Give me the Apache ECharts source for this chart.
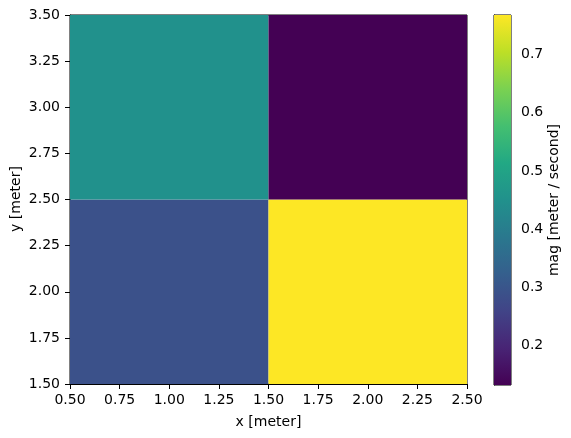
<!DOCTYPE html>
<html>
<head>
<meta charset="utf-8">
<script src="https://cdn.jsdelivr.net/npm/echarts@6/dist/echarts.min.js"></script>
<style>
    html, body { margin: 0; padding: 0; background: #fff; }
    #chart { width: 571px; height: 438px; }
</style>
</head>
<body>
<div id="chart"></div>
<script>
// cell centres and magnitudes (rows follow yCenters)
var xCenters = [1.0, 2.0];
var yCenters = [2.0, 3.0];
var magValues = [
    [0.29, 0.768],
    [0.45, 0.132]
];
var cellSize = 1.0;
var magRange = [0.132, 0.768];
var cbTicks = [0.2, 0.3, 0.4, 0.5, 0.6, 0.7];
var viridis = ['#440154', '#482475', '#414487', '#355f8d', '#2a788e', '#21918c',
    '#22a884', '#44bf70', '#7ad151', '#bddf26', '#fde725'];

var cells = [];
for (var j = 0; j < yCenters.length; j++) {
    for (var i = 0; i < xCenters.length; i++) {
        cells.push([xCenters[i], yCenters[j], magValues[j][i]]);
    }
}

var font = 'DejaVu Sans';
var labelStyle = { color: '#000', fontSize: 14, fontFamily: font };

function fmt2(v) { return v.toFixed(2); }

var myChart = echarts.init(document.getElementById('chart'));
var option = {
    animation: false,
    grid: [
        { left: 70, top: 15, width: 397, height: 369, outerBoundsMode: 'none', show: true, borderColor: '#000', borderWidth: 1, backgroundColor: 'transparent' },
        { left: 494, top: 15, width: 17, height: 370, outerBoundsMode: 'none', show: true, borderColor: '#000', borderWidth: 1, backgroundColor: 'transparent' }
    ],
    // y axis title, placed like matplotlib's ylabel
    graphic: [{
        type: 'text',
        x: 16, y: 199,
        rotation: Math.PI / 2,
        style: { text: 'y [meter]', fill: '#000', fontSize: 14, fontFamily: font, align: 'center', verticalAlign: 'middle' }
    }],
    visualMap: {
        show: false,
        seriesIndex: 0,
        dimension: 2,
        min: magRange[0],
        max: magRange[1],
        inRange: { color: viridis }
    },
    xAxis: [{
        gridIndex: 0, type: 'value', min: 0.5, max: 2.5, interval: 0.25,
        name: 'x [meter]', nameLocation: 'middle', nameGap: 31,
        nameTextStyle: labelStyle,
        axisLine: { show: true, onZero: false, lineStyle: { color: '#000' } },
        axisTick: { show: true, length: 5, lineStyle: { color: '#000' } },
        axisLabel: Object.assign({ formatter: fmt2, margin: 9, showMaxLabel: true, showMinLabel: true }, labelStyle),
        splitLine: { show: false }
    }, {
        gridIndex: 1, type: 'value', min: 0, max: 1, show: false
    }],
    yAxis: [{
        gridIndex: 0, type: 'value', min: 1.5, max: 3.5, interval: 0.25,
        axisLine: { show: true, onZero: false, lineStyle: { color: '#000' } },
        axisTick: { show: true, length: 5, lineStyle: { color: '#000' } },
        axisLabel: Object.assign({ formatter: fmt2, margin: 10, showMaxLabel: true, showMinLabel: true }, labelStyle),
        splitLine: { show: false }
    }, {
        gridIndex: 1, type: 'value', min: magRange[0], max: magRange[1], position: 'right',
        name: 'mag [meter / second]', nameLocation: 'middle', nameGap: 36, nameRotate: 90, nameMoveOverlap: false,
        nameTextStyle: labelStyle,
        axisLine: { show: true, lineStyle: { color: '#000' } },
        axisTick: { show: true, length: 5, customValues: cbTicks, lineStyle: { color: '#000' } },
        axisLabel: Object.assign({ customValues: cbTicks, margin: 10, formatter: function (v) { return v.toFixed(1); } }, labelStyle),
        splitLine: { show: false }
    }],
    series: [{
        type: 'custom',
        xAxisIndex: 0, yAxisIndex: 0,
        data: cells,
        encode: { x: 0, y: 1 },
        renderItem: function (params, api) {
            var x = api.value(0), y = api.value(1), h = cellSize / 2;
            var p0 = api.coord([x - h, y + h]);
            var p1 = api.coord([x + h, y - h]);
            return {
                type: 'rect',
                shape: { x: p0[0], y: p0[1], width: p1[0] - p0[0], height: p1[1] - p0[1] },
                style: { fill: api.visual('color') }
            };
        }
    }, {
        type: 'custom',
        xAxisIndex: 1, yAxisIndex: 1,
        data: [[0, magRange[0], magRange[1]]],
        renderItem: function (params, api) {
            var p0 = api.coord([0, api.value(2)]);
            var p1 = api.coord([1, api.value(1)]);
            var stops = viridis.map(function (c, k) { return { offset: k / (viridis.length - 1), color: c }; });
            return {
                type: 'rect',
                shape: { x: p0[0], y: p0[1], width: p1[0] - p0[0], height: p1[1] - p0[1] },
                style: { fill: new echarts.graphic.LinearGradient(0, 1, 0, 0, stops) }
            };
        }
    }]
};
myChart.setOption(option);
</script>
</body>
</html>
